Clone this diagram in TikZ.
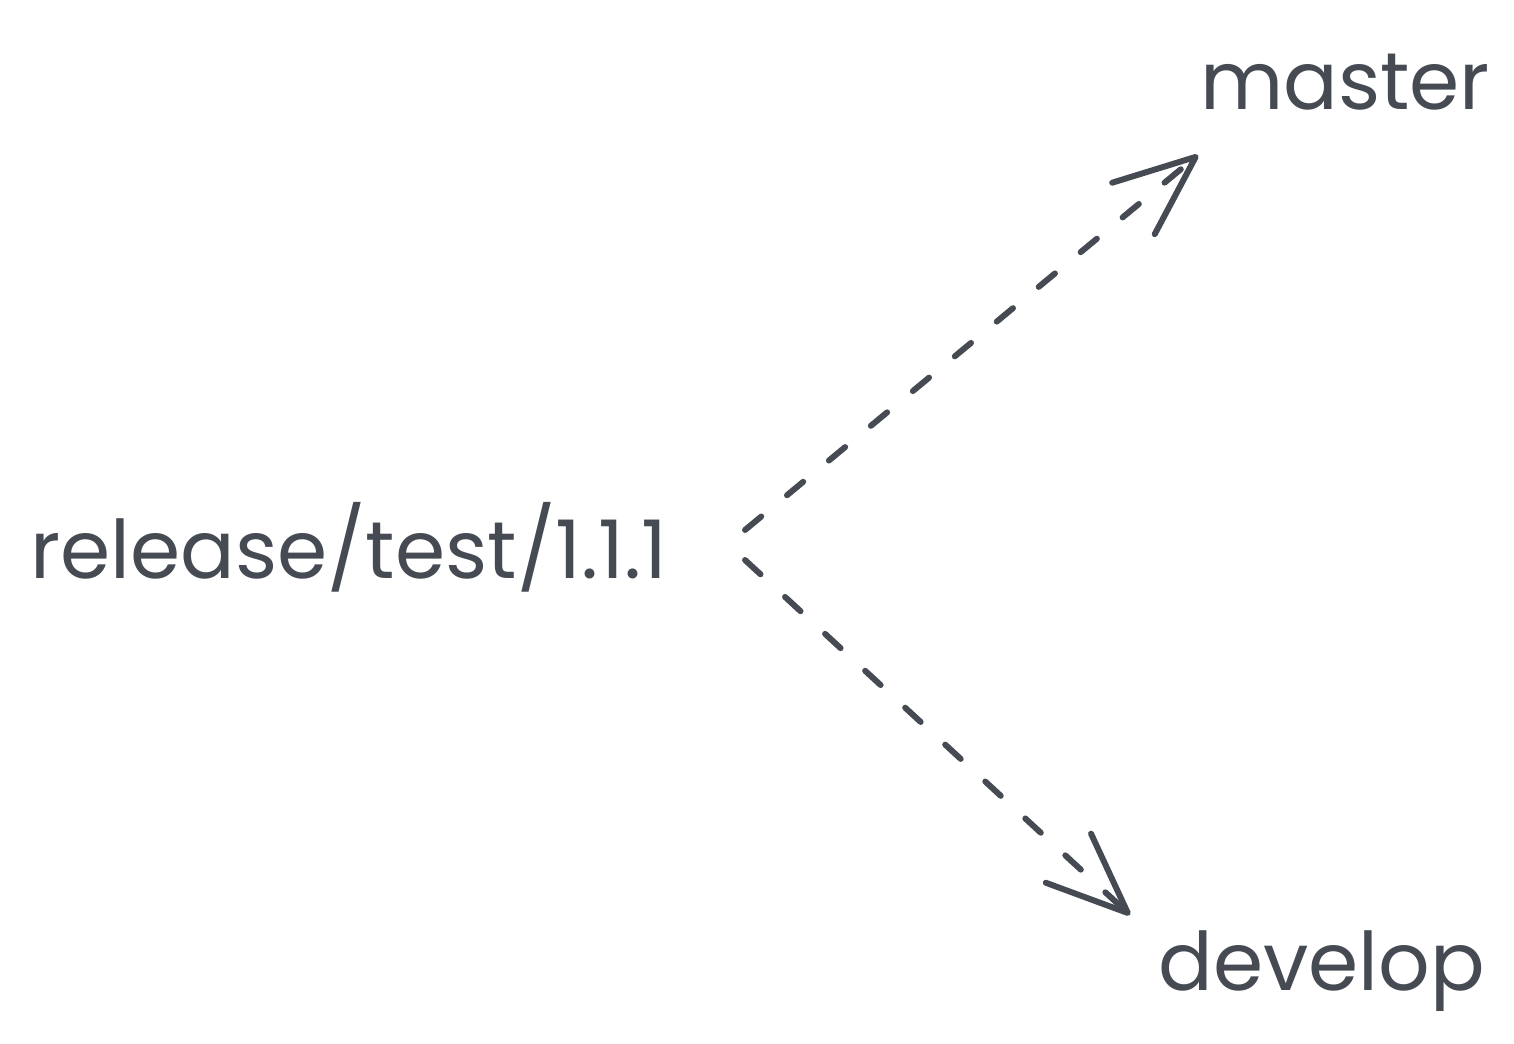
\documentclass[tikz,border=0pt]{standalone}
\usepackage{fontspec}
\setmainfont{Poppins}
\usetikzlibrary{arrows.meta}
\definecolor{ink}{HTML}{464B53}

\begin{document}
\begin{tikzpicture}[x=0.02cm,y=-0.02cm,
  label/.style={inner sep=0pt,text=ink,font=\fontsize{46}{50}\selectfont},
  flow/.style={draw=ink,line width=3.4pt,line cap=round,
    dash pattern=on 12pt off 19pt,
    -{Straight Barb[length=46pt,width=38pt,round]}}]
  \useasboundingbox (0,0) rectangle (1514,1044);
  % branch names
  \node[label,anchor=base west] (rel) at (30,578) {release/test/1.1.1};
  \node[label,anchor=base west] (master) at (1200,110) {master};
  \node[label,anchor=base west] (develop) at (1158,990) {develop};
  % ends of the merges
  \coordinate (relup) at (745,530);
  \coordinate (reldown) at (745,560);
  \coordinate (mastertip) at (1198,155);
  \coordinate (developtip) at (1130,915);
  % merge into master and develop
  \draw[flow] (relup) -- (mastertip);
  \draw[flow] (reldown) -- (developtip);
\end{tikzpicture}
\end{document}
